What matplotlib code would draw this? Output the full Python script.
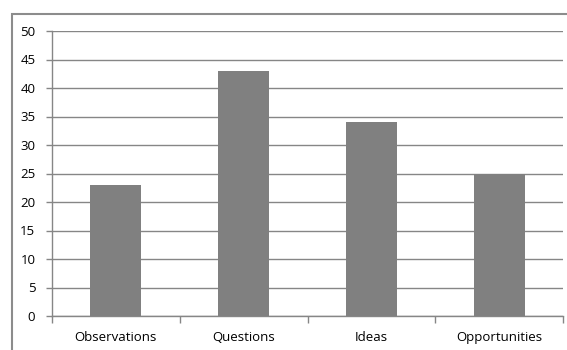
import matplotlib
matplotlib.use("Agg")
import matplotlib.pyplot as plt
import numpy as np
from matplotlib.patches import Rectangle

categories = ["Observations", "Questions", "Ideas", "Opportunities"]
values = [23, 43, 34, 25]
y_ticks = [0, 5, 10, 15, 20, 25, 30, 35, 40, 45, 50]

GRAY = "#868686"
BAR = "#808080"

plt.rcParams["font.family"] = ["Open Sans", "DejaVu Sans"]

W, H = 567, 350
fig = plt.figure(figsize=(W / 100, H / 100), dpi=100)
ax = fig.add_axes([52 / W, 1 - 316 / H, (563 - 52) / W, (316 - 31) / H])

# chart frame (cut off at right and bottom like the source)
fig.patches.append(Rectangle((12 / W, -0.05), 1.1, 1 - 14 / H + 0.05,
                             transform=fig.transFigure, fill=False,
                             edgecolor="#8c8c8c", linewidth=1.5))

x = np.arange(len(categories))
ax.bar(x, values, width=0.4, color=BAR, zorder=3)

ax.set_xlim(-0.5, len(categories) - 0.5)
ax.set_ylim(0, 50)
ax.set_yticks(y_ticks)
ax.grid(axis="y", color=GRAY, linewidth=1)
ax.set_axisbelow(True)

ax.set_xticks(x)
ax.set_xticklabels(categories, fontsize=9.5)
ax.set_xticks(np.arange(-0.5, len(categories)), minor=True)
ax.tick_params(axis="x", which="major", length=0, pad=11)
ax.tick_params(axis="x", which="minor", length=5, color=GRAY, width=1)
ax.tick_params(axis="y", length=4, color=GRAY, width=1, labelsize=9.5, pad=8)

for s in ["top", "right"]:
    ax.spines[s].set_visible(False)
for s in ["left", "bottom"]:
    ax.spines[s].set_color(GRAY)
    ax.spines[s].set_linewidth(1)

fig.savefig("out.png", dpi=100)
